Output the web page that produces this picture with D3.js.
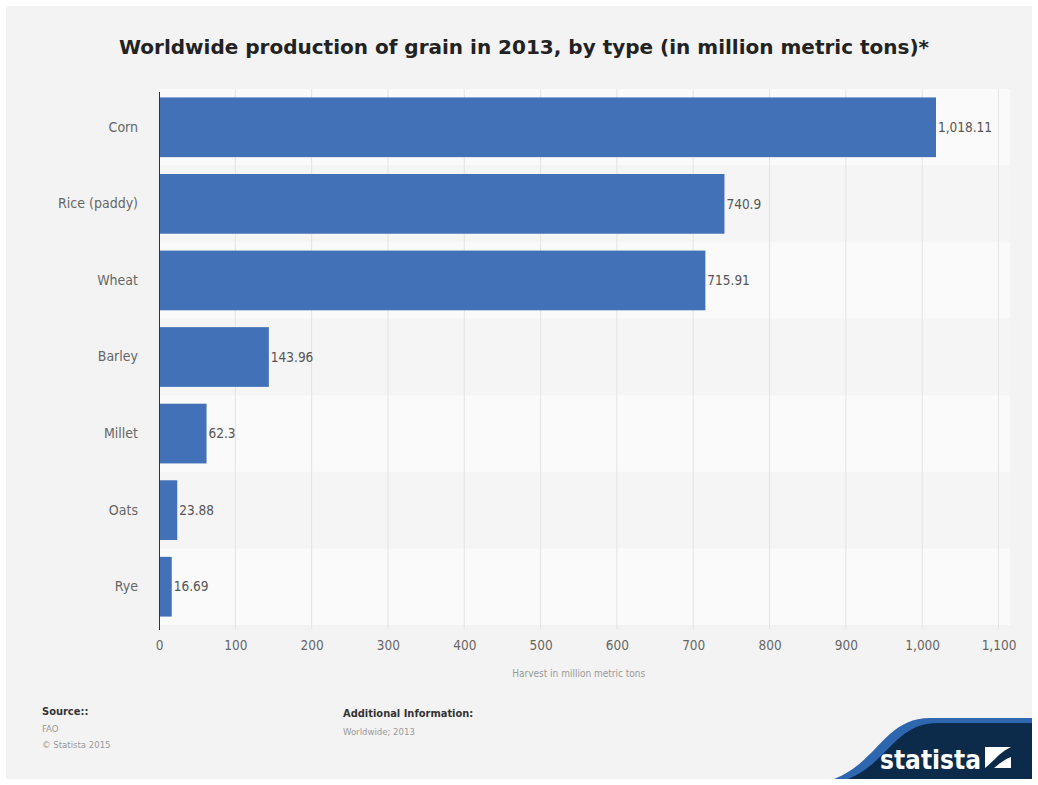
<!DOCTYPE html>
<html>
<head>
<meta charset="utf-8">
<script src="https://cdn.jsdelivr.net/npm/d3@7"></script>
<style>
  html, body { margin: 0; padding: 0; background: #ffffff; }
  svg { display: block; }
</style>
</head>
<body>
<div id="chart"></div>
<script>
// grain types and harvest values (million metric tons)
const grains = ['Corn', 'Rice (paddy)', 'Wheat', 'Barley', 'Millet', 'Oats', 'Rye'];
const harvest = [1018.11, 740.9, 715.91, 143.96, 62.3, 23.88, 16.69];
const xTicks = [0, 100, 200, 300, 400, 500, 600, 700, 800, 900, 1000, 1100];

const width = 1038, height = 785;
const margin = { left: 159, right: 1010, top: 89, bottom: 625 };
const font = '"DejaVu Sans Condensed", "DejaVu Sans", sans-serif';

const svg = d3.select('#chart').append('svg')
    .attr('width', width)
    .attr('height', height);

// frame
svg.append('rect')
    .attr('x', 6).attr('y', 6)
    .attr('width', width - 12).attr('height', height - 12)
    .attr('fill', '#f3f3f3');

const x = d3.scaleLinear()
    .domain([0, 1100])
    .range([margin.left, 998.5]);

const y = d3.scaleBand()
    .domain(grains)
    .range([margin.top, margin.bottom])
    .paddingInner(0.22)
    .paddingOuter(0.11);

// alternating row stripes
svg.append('g').selectAll('rect')
    .data(grains)
    .enter().append('rect')
    .attr('x', margin.left)
    .attr('y', d => y(d) - y.step() * y.paddingInner() / 2)
    .attr('width', margin.right - margin.left)
    .attr('height', y.step())
    .attr('fill', (d, i) => i % 2 == 0 ? '#fafafa' : '#f5f5f5');

// vertical grid
svg.append('g').selectAll('line')
    .data(xTicks.slice(1))
    .enter().append('line')
    .attr('x1', d => x(d)).attr('x2', d => x(d))
    .attr('y1', margin.top).attr('y2', margin.bottom + 4)
    .attr('stroke', '#e3e3e3')
    .attr('stroke-width', 1);

// bars
svg.append('g').selectAll('rect')
    .data(harvest)
    .enter().append('rect')
    .attr('x', x(0))
    .attr('y', (d, i) => y(grains[i]))
    .attr('width', d => x(d) - x(0))
    .attr('height', y.bandwidth())
    .attr('fill', '#4271b7');

// value labels
svg.append('g').selectAll('text')
    .data(harvest)
    .enter().append('text')
    .attr('x', d => x(d) + 2)
    .attr('y', (d, i) => y(grains[i]) + y.bandwidth() / 2)
    .attr('dy', '0.35em')
    .style('font-family', font)
    .style('font-size', '13.5px')
    .style('fill', '#555')
    .text(d => d3.format(',')(d));

// y axis
const yAxis = svg.append('g')
    .attr('transform', 'translate(' + margin.left + ',0)')
    .call(d3.axisLeft(y).tickSize(0).tickPadding(21));
yAxis.select('.domain').attr('stroke', '#333').attr('d', 'M0.5,' + (margin.top + 3) + 'V' + (margin.bottom + 5));
yAxis.selectAll('text')
    .style('font-family', font)
    .style('font-size', '14px')
    .style('fill', '#666');

// x axis
const xAxis = svg.append('g')
    .attr('transform', 'translate(0,' + (margin.bottom + 11) + ')')
    .call(d3.axisBottom(x).tickValues(xTicks).tickSize(0).tickPadding(4).tickFormat(d3.format(',')));
xAxis.select('.domain').remove();
xAxis.selectAll('text')
    .style('font-family', font)
    .style('font-size', '13.5px')
    .style('fill', '#666');

svg.append('text')
    .attr('x', x(550))
    .attr('y', 677)
    .attr('text-anchor', 'middle')
    .style('font-family', font)
    .style('font-size', '10px')
    .style('fill', '#999')
    .text('Harvest in million metric tons');

// title
svg.append('text')
    .attr('x', 524)
    .attr('y', 54)
    .attr('text-anchor', 'middle')
    .style('font-family', '"DejaVu Sans", sans-serif')
    .style('font-weight', 'bold')
    .style('font-size', '20px')
    .style('fill', '#222')
    .text('Worldwide production of grain in 2013, by type (in million metric tons)*');

// footer
const foot = svg.append('g')
    .style('font-family', font);
foot.append('text').attr('x', 42).attr('y', 715)
    .style('font-size', '11px').style('font-weight', 'bold').style('fill', '#333').text('Source::');
foot.append('text').attr('x', 42).attr('y', 732)
    .style('font-size', '9.5px').style('fill', '#999').text('FAO');
foot.append('text').attr('x', 42).attr('y', 748)
    .style('font-size', '9.5px').style('fill', '#999').text('© Statista 2015');
foot.append('text').attr('x', 343).attr('y', 717)
    .style('font-size', '11px').style('font-weight', 'bold').style('fill', '#333').text('Additional Information:');
foot.append('text').attr('x', 343).attr('y', 735)
    .style('font-size', '9.5px').style('fill', '#999').text('Worldwide; 2013');

// statista badge
const badge = svg.append('g');
badge.append('path')
    .attr('d', 'M834,779 C878,762 885,718 930,718 L1032,718 L1032,779 Z')
    .attr('fill', '#2f66b0');
badge.append('path')
    .attr('d', 'M848,779 C888,763 895,723 938,723 L1032,723 L1032,779 Z')
    .attr('fill', '#0c2a4a');
badge.append('text')
    .attr('x', 880).attr('y', 769)
    .style('font-family', font)
    .style('font-weight', 'bold')
    .style('font-size', '26px')
    .style('fill', '#ffffff')
    .text('statista');
badge.append('rect')
    .attr('x', 985).attr('y', 747).attr('width', 26).attr('height', 21)
    .attr('fill', '#ffffff');
badge.append('path')
    .attr('d', 'M985,768 C995,760 1000,752 1011,747 L1011,757 C1003,760 998,765 994,768 Z')
    .attr('fill', '#0c2a4a');
</script>
</body>
</html>
